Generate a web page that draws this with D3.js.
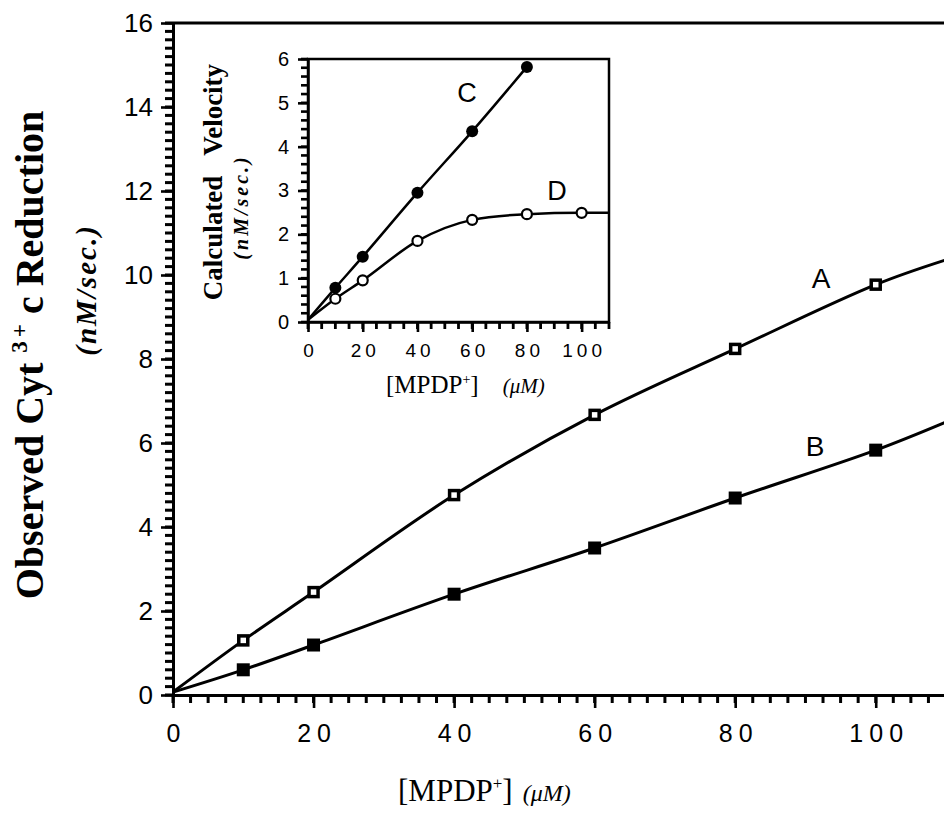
<!DOCTYPE html>
<html>
<head>
<meta charset="utf-8">
<script src="https://cdn.jsdelivr.net/npm/d3@7"></script>
<style>
  html, body { margin: 0; padding: 0; background: #fff; }
  svg { display: block; }
  .tick text { fill: #000; }
</style>
</head>
<body>
<svg id="chart" width="944" height="827"></svg>
<script>
// Main panel: observed reduction rate vs. MPDP+ concentration
const mainConc = [10, 20, 40, 60, 80, 100];
const seriesA = [1.30, 2.45, 4.76, 6.67, 8.24, 9.77];   // open squares
const seriesB = [0.60, 1.19, 2.40, 3.50, 4.69, 5.83];   // filled squares
// fitted curves (through the points, from the origin to the frame edge)
const fitConcMain = [0, 10, 20, 40, 60, 80, 100, 110];
const fitA = [0.07, 1.30, 2.45, 4.76, 6.67, 8.24, 9.77, 10.36];
const fitB = [0.07, 0.60, 1.19, 2.40, 3.50, 4.69, 5.83, 6.50];

// Inset: calculated velocity
const insetConcC = [10, 20, 40, 60, 80];
const seriesC = [0.78, 1.49, 2.95, 4.35, 5.82];         // filled circles
const insetConcD = [10, 20, 40, 60, 80, 100];
const seriesD = [0.53, 0.95, 1.85, 2.33, 2.46, 2.49];   // open circles
const fitConcC = [0, 10, 20, 40, 60, 80];
const fitC = [0.05, 0.78, 1.49, 2.95, 4.35, 5.82];
const fitConcD = [0, 10, 20, 40, 60, 80, 100, 110];
const fitD = [0.05, 0.53, 0.95, 1.85, 2.33, 2.46, 2.49, 2.49];

const mainXTicks = [0, 20, 40, 60, 80, 100];
const mainYTicks = [0, 2, 4, 6, 8, 10, 12, 14, 16];
const insetXTicks = [0, 20, 40, 60, 80, 100];
const insetYTicks = [0, 1, 2, 3, 4, 5, 6];

const svg = d3.select("#chart");
const SANS = "'Liberation Sans', Arial, Helvetica, sans-serif";
const SERIF = "'Liberation Serif', 'Times New Roman', serif";

function styleAxis(g, width) {
  g.select(".domain").attr("stroke", "#000").attr("stroke-width", width);
  g.selectAll(".tick line").attr("stroke", "#000").attr("stroke-width", 2.6);
}

// short outward tick marks along an axis, drawn as small filled bars
function minorTicks(values, scale, fixed, len, vertical, width) {
  svg.append("g").selectAll("rect").data(values).join("rect")
    .attr("x", d => vertical ? fixed - len : scale(d) - width / 2)
    .attr("y", d => vertical ? scale(d) - width / 2 : fixed)
    .attr("width", vertical ? len : width)
    .attr("height", vertical ? width : len)
    .attr("fill", "#000");
}

// ---------- main panel ----------
const x = d3.scaleLinear().domain([0, 110]).range([173, 946]);
const y = d3.scaleLinear().domain([0, 16]).range([695, 23]);

const gx = svg.append("g").attr("transform", `translate(0,${y(0)})`)
  .call(d3.axisBottom(x).tickValues(mainXTicks).tickSize(13).tickSizeOuter(0).tickPadding(16)
    .tickFormat(d3.format("d")))
  .call(g => styleAxis(g, 3));
gx.selectAll(".tick text")
  .attr("font-family", SANS).attr("font-size", 25)
  .attr("letter-spacing", "6px").attr("dx", 3);

const gy = svg.append("g").attr("transform", `translate(${x(0)},0)`)
  .call(d3.axisLeft(y).tickValues(mainYTicks).tickSize(12).tickSizeOuter(0).tickPadding(8)
    .tickFormat(d3.format("d")))
  .call(g => styleAxis(g, 3));
gy.selectAll(".tick text").attr("font-family", SANS).attr("font-size", 26);

minorTicks(d3.range(0, 110.01, 2.5), x, y(0), 8, false, 3);
minorTicks(d3.range(0, 16.01, 0.2), y, x(0), 8, true, 3);

// top frame line
svg.append("line")
  .attr("x1", x(0)).attr("x2", 944).attr("y1", y(16)).attr("y2", y(16))
  .attr("stroke", "#000").attr("stroke-width", 3);

const line = d3.line().curve(d3.curveCatmullRom.alpha(0.5));

svg.append("path")
  .attr("d", line(fitConcMain.map((c, i) => [x(c), y(fitA[i])])))
  .attr("fill", "none").attr("stroke", "#000").attr("stroke-width", 3);
svg.append("path")
  .attr("d", line(fitConcMain.map((c, i) => [x(c), y(fitB[i])])))
  .attr("fill", "none").attr("stroke", "#000").attr("stroke-width", 3);

// open squares (A)
svg.append("g").selectAll("rect").data(mainConc).join("rect")
  .attr("x", (d) => x(d) - 4.5).attr("y", (d, i) => y(seriesA[i]) - 4.5)
  .attr("width", 9).attr("height", 9)
  .attr("fill", "#fff").attr("stroke", "#000").attr("stroke-width", 3.5);
// filled squares (B)
svg.append("g").selectAll("rect").data(mainConc).join("rect")
  .attr("x", (d) => x(d) - 6.5).attr("y", (d, i) => y(seriesB[i]) - 6.5)
  .attr("width", 13).attr("height", 13).attr("fill", "#000");

// series labels
svg.append("text").attr("x", 821).attr("y", 288).attr("text-anchor", "middle")
  .attr("font-family", SANS).attr("font-size", 28).text("A");
svg.append("text").attr("x", 815).attr("y", 456).attr("text-anchor", "middle")
  .attr("font-family", SANS).attr("font-size", 28).text("B");

// axis titles
const xt = svg.append("text").attr("x", 398).attr("y", 801).attr("font-family", SERIF);
xt.append("tspan").attr("font-size", 31).text("[MPDP");
xt.append("tspan").attr("font-size", 17).attr("dy", -12).text("+");
xt.append("tspan").attr("font-size", 31).attr("dy", 12).text("]");
xt.append("tspan").attr("font-size", 24).attr("font-style", "italic").attr("dx", 10).text("(μM)");

const yt = svg.append("text")
  .attr("transform", "translate(43,355) rotate(-90)")
  .attr("text-anchor", "middle").attr("font-family", SERIF)
  .attr("font-weight", "bold").attr("font-size", 40);
yt.append("tspan").text("Observed Cyt ");
yt.append("tspan").attr("font-size", 23).attr("dy", -16).text("3");
yt.append("tspan").attr("font-size", 23).attr("dx", 4).text("+");
yt.append("tspan").attr("dy", 16).text(" c Reduction");

svg.append("text")
  .attr("transform", "translate(96,290) rotate(-90)")
  .attr("text-anchor", "middle").attr("font-family", SERIF)
  .attr("font-weight", "bold").attr("font-style", "italic").attr("font-size", 29)
  .attr("letter-spacing", "2px")
  .text("(nM/sec.)");

// ---------- inset ----------
const xi = d3.scaleLinear().domain([0, 110]).range([308, 609]);
const yi = d3.scaleLinear().domain([0, 6]).range([322, 59]);

svg.append("rect")
  .attr("x", xi(0)).attr("y", yi(6))
  .attr("width", xi(110) - xi(0)).attr("height", yi(0) - yi(6))
  .attr("fill", "#fff").attr("stroke", "#000").attr("stroke-width", 2.5);

const gxi = svg.append("g").attr("transform", `translate(0,${yi(0)})`)
  .call(d3.axisBottom(xi).tickValues(insetXTicks).tickSize(10).tickSizeOuter(0).tickPadding(12)
    .tickFormat(d3.format("d")))
  .call(g => styleAxis(g, 2.5));
gxi.selectAll(".tick text")
  .attr("font-family", SANS).attr("font-size", 19)
  .attr("letter-spacing", "4px").attr("dx", 2);

const gyi = svg.append("g").attr("transform", `translate(${xi(0)},0)`)
  .call(d3.axisLeft(yi).tickValues(insetYTicks).tickSize(10).tickSizeOuter(0).tickPadding(9)
    .tickFormat(d3.format("d")))
  .call(g => styleAxis(g, 2.5));
gyi.selectAll(".tick text").attr("font-family", SANS).attr("font-size", 20);

minorTicks(d3.range(0, 110.01, 5), xi, yi(0), 7, false, 2.8);
minorTicks(d3.range(0, 6.01, 0.2), yi, xi(0), 7, true, 2.6);

svg.append("path")
  .attr("d", line(fitConcC.map((c, i) => [xi(c), yi(fitC[i])])))
  .attr("fill", "none").attr("stroke", "#000").attr("stroke-width", 2.5);
svg.append("path")
  .attr("d", d3.line().curve(d3.curveMonotoneX)(fitConcD.map((c, i) => [xi(c), yi(fitD[i])])))
  .attr("fill", "none").attr("stroke", "#000").attr("stroke-width", 2.5);

svg.append("g").selectAll("circle").data(insetConcC).join("circle")
  .attr("cx", (d) => xi(d)).attr("cy", (d, i) => yi(seriesC[i]))
  .attr("r", 6).attr("fill", "#000");
svg.append("g").selectAll("circle").data(insetConcD).join("circle")
  .attr("cx", (d) => xi(d)).attr("cy", (d, i) => yi(seriesD[i]))
  .attr("r", 5).attr("fill", "#fff").attr("stroke", "#000").attr("stroke-width", 2.2);

svg.append("text").attr("x", 467).attr("y", 102).attr("text-anchor", "middle")
  .attr("font-family", SANS).attr("font-size", 27).text("C");
svg.append("text").attr("x", 557).attr("y", 200).attr("text-anchor", "middle")
  .attr("font-family", SANS).attr("font-size", 27).text("D");

const xti = svg.append("text").attr("x", 386).attr("y", 393).attr("font-family", SERIF);
xti.append("tspan").attr("font-size", 25).text("[MPDP");
xti.append("tspan").attr("font-size", 14).attr("dy", -9).text("+");
xti.append("tspan").attr("font-size", 25).attr("dy", 9).text("]");
xti.append("tspan").attr("font-size", 21).attr("font-style", "italic").attr("dx", 24).text("(μM)");

svg.append("text")
  .attr("transform", "translate(222,182) rotate(-90)")
  .attr("text-anchor", "middle").attr("font-family", SERIF)
  .attr("font-weight", "bold").attr("font-size", 27)
  .attr("xml:space", "preserve")
  .text("Calculated   Velocity");
svg.append("text")
  .attr("transform", "translate(248,207) rotate(-90)")
  .attr("text-anchor", "middle").attr("font-family", SERIF)
  .attr("font-weight", "bold").attr("font-style", "italic").attr("font-size", 20)
  .attr("letter-spacing", "3px")
  .text("(nM/sec.)");
</script>
</body>
</html>
